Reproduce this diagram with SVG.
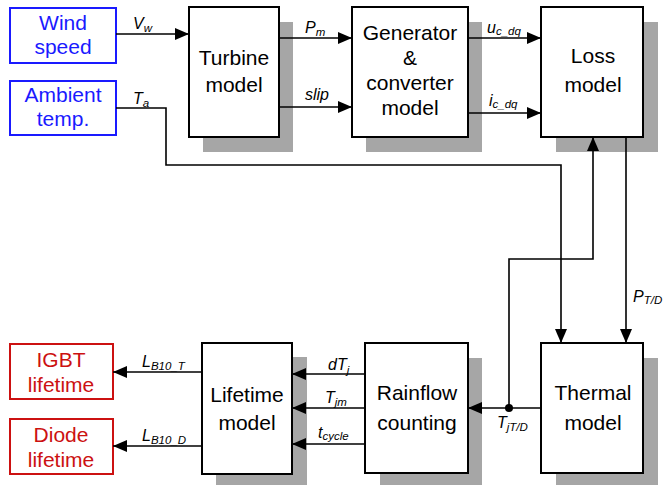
<svg xmlns="http://www.w3.org/2000/svg" width="664" height="485" viewBox="0 0 664 485">
<defs>
<marker id="ah" viewBox="0 0 14 12" refX="14" refY="6" markerWidth="14" markerHeight="12" markerUnits="userSpaceOnUse" orient="auto">
<path d="M0,0 L14,6 L0,12 Z" fill="#000"/>
</marker>
</defs>
<style>
.box{fill:#fff;stroke:#000;stroke-width:2}
.sh{fill:#a6a6a6;stroke:none}
.in{fill:#fff;stroke:#1a1aff;stroke-width:2}
.out{fill:#fff;stroke:#cc1111;stroke-width:2}
.t{font-family:"Liberation Sans",Arial,sans-serif;font-size:21px;text-anchor:middle;fill:#000}
.tb{fill:#1a1aff}
.tr{fill:#cc1111}
.lb{font-family:"Liberation Sans",Arial,sans-serif;font-size:16px;font-style:italic;fill:#000}
.sub{font-size:11.5px}
.c{fill:none;stroke:#000;stroke-width:1.6}
.a{marker-end:url(#ah)}
</style>
<g id="wind">
<rect class="in" x="10" y="8" width="106" height="55"/>
<text class="t tb" x="63" y="30">Wind</text>
<text class="t tb" x="63" y="54">speed</text>
</g>
<g id="ambient">
<rect class="in" x="10" y="81" width="106" height="54"/>
<text class="t tb" x="63" y="102">Ambient</text>
<text class="t tb" x="63" y="126">temp.</text>
</g>
<g id="turbine">
<rect class="sh" x="203" y="22" width="90" height="130"/>
<rect class="box" x="189" y="7" width="90" height="130"/>
<text class="t" x="234" y="65">Turbine</text>
<text class="t" x="234" y="92">model</text>
</g>
<g id="generator">
<rect class="sh" x="366" y="22" width="116" height="130"/>
<rect class="box" x="352" y="7" width="116" height="130"/>
<text class="t" x="410" y="40">Generator</text>
<text class="t" x="410" y="65">&amp;</text>
<text class="t" x="410" y="90">converter</text>
<text class="t" x="410" y="115">model</text>
</g>
<g id="loss">
<rect class="sh" x="556" y="22" width="102" height="130"/>
<rect class="box" x="541" y="7" width="102" height="130"/>
<text class="t" x="593" y="63">Loss</text>
<text class="t" x="593" y="92">model</text>
</g>
<g id="thermal">
<rect class="sh" x="556" y="358" width="102" height="127"/>
<rect class="box" x="541" y="343" width="102" height="130"/>
<text class="t" x="593" y="400">Thermal</text>
<text class="t" x="593" y="430">model</text>
</g>
<g id="rainflow">
<rect class="sh" x="380" y="358" width="102" height="127"/>
<rect class="box" x="365" y="343" width="103" height="130"/>
<text class="t" x="417" y="400">Rainflow</text>
<text class="t" x="417" y="430">counting</text>
</g>
<g id="lifetime">
<rect class="sh" x="216" y="357" width="91" height="128"/>
<rect class="box" x="202" y="343" width="90" height="131"/>
<text class="t" x="247" y="402">Lifetime</text>
<text class="t" x="247" y="430">model</text>
</g>
<g id="igbt">
<rect class="out" x="10" y="344" width="103" height="55"/>
<text class="t tr" x="61" y="367">IGBT</text>
<text class="t tr" x="61" y="392">lifetime</text>
</g>
<g id="diode">
<rect class="out" x="10" y="419" width="103" height="55"/>
<text class="t tr" x="61" y="442">Diode</text>
<text class="t tr" x="61" y="467">lifetime</text>
</g>
<g id="connectors">
<path class="c a" d="M116,34 H189"/>
<path class="c a" d="M116,108 H166 V165 H561 V343"/>
<path class="c a" d="M279,38 H352"/>
<path class="c a" d="M279,107 H352"/>
<path class="c a" d="M468,38 H541"/>
<path class="c a" d="M468,113 H541"/>
<path class="c a" d="M626,137 V343"/>
<path class="c a" d="M509,408 V259 H593 V137"/>
<path class="c a" d="M541,408 H468"/>
<circle cx="509" cy="408" r="4" fill="#000"/>
<path class="c a" d="M365,374 H292"/>
<path class="c a" d="M365,408 H292"/>
<path class="c a" d="M365,444 H292"/>
<path class="c a" d="M202,372 H113"/>
<path class="c a" d="M202,446 H113"/>
</g>
<g id="labels">
<text class="lb" x="133" y="29">V<tspan class="sub" dy="3">w</tspan></text>
<text class="lb" x="133" y="104">T<tspan class="sub" dy="3">a</tspan></text>
<text class="lb" x="305" y="33">P<tspan class="sub" dy="3">m</tspan></text>
<text class="lb" x="305" y="100">slip</text>
<text class="lb" x="487" y="33">u<tspan class="sub" dy="2">c_dq</tspan></text>
<text class="lb" x="489" y="106">i<tspan class="sub" dy="2">c_dq</tspan></text>
<text class="lb" x="633" y="302">P<tspan class="sub" dy="2">T/D</tspan></text>
<text class="lb" x="497" y="428">T<tspan class="sub" dy="3">jT/D</tspan></text>
<text class="lb" x="328" y="370">dT<tspan class="sub" dy="4">j</tspan></text>
<text class="lb" x="325" y="403">T<tspan class="sub" dy="3">jm</tspan></text>
<text class="lb" x="318" y="438">t<tspan class="sub" dy="2">cycle</tspan></text>
<text class="lb" x="142" y="367">L<tspan class="sub" dy="3">B10_T</tspan></text>
<text class="lb" x="142" y="441">L<tspan class="sub" dy="3">B10_D</tspan></text>
</g>
</svg>
